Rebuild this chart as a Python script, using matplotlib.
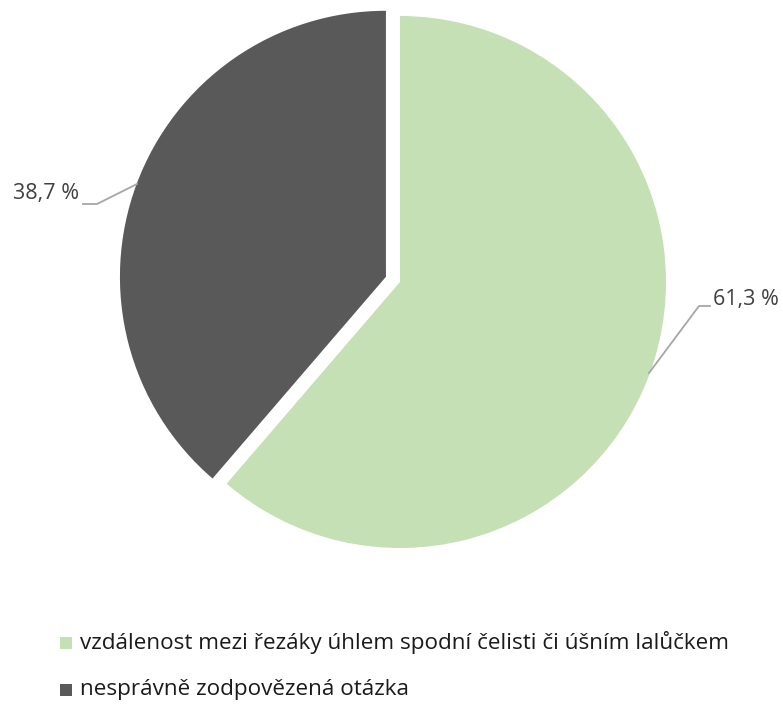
import matplotlib
matplotlib.use("Agg")
import matplotlib.pyplot as plt
from matplotlib.patches import Rectangle

# data
labels = ["vzdálenost mezi řezáky úhlem spodní čelisti či úšním lalůčkem",
          "nesprávně zodpovězená otázka"]
values = [61.3, 38.7]
value_texts = ["61,3 %", "38,7 %"]
colors = ["#C5E0B4", "#595959"]

plt.rcParams['font.family'] = ['Open Sans', 'DejaVu Sans']

W, H = 783, 704
fig = plt.figure(figsize=(W / 100, H / 100), dpi=100)
# axes in pixel units, y pointing up
ax = fig.add_axes([0, 0, 1, 1])

cx, cy, r = 400, H - 282, 266
wedges, _ = ax.pie(values, colors=colors, startangle=90, counterclock=False,
                   center=(cx, cy), radius=r, explode=[0, 15],
                   wedgeprops=dict(linewidth=0))
ax.set_xlim(0, W)
ax.set_ylim(0, H)
ax.set_aspect('auto')
ax.axis('off')

lc = "#A6A6A6"
# leader lines and value labels
ax.plot([649, 699, 710], [H - 373, H - 306, H - 306], color=lc, lw=1.3)
ax.text(713, H - 299, value_texts[0], ha='left', va='center', fontsize=15.5, color='#404040')
ax.plot([137, 97, 83], [H - 184, H - 204, H - 204], color=lc, lw=1.3)
ax.text(79, H - 194, value_texts[1], ha='right', va='center', fontsize=15.5, color='#404040')

# legend
for i, lab in enumerate(labels):
    y = H - (643 + i * 47)
    ax.add_patch(Rectangle((60, y - 6), 12, 12, color=colors[i], lw=0))
    ax.text(80, y, lab, ha='left', va='center', fontsize=16.2, color='#1a1a1a')

fig.savefig("out.png", dpi=100)
